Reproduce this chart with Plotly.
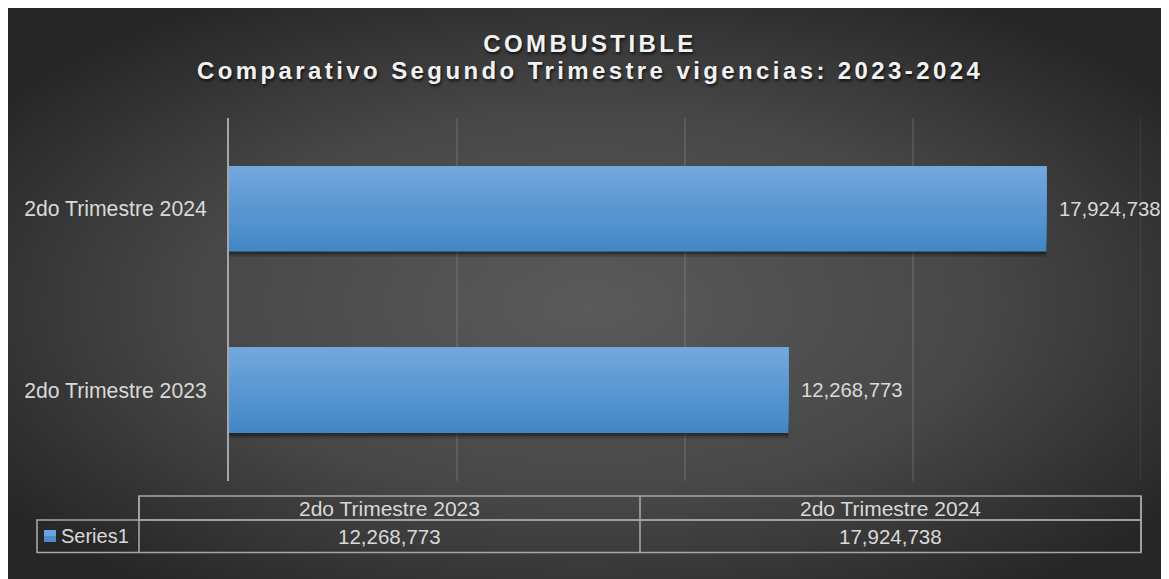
import base64
import plotly.graph_objects as go

# ---------------- data ----------------
categories = ["2do Trimestre 2023", "2do Trimestre 2024"]
values = [12268773, 17924738]
series_name = "Series1"
title_line1 = "COMBUSTIBLE"
title_line2 = "Comparativo Segundo Trimestre vigencias: 2023-2024"
x_max = 20000000
x_step = 5000000

# ---------------- layout constants ----------------
# positions below are in screen pixels; the page body has an 8px margin
OFF = 8
W, H = 1169 - OFF, 579 - OFF
PL, PR, PT, PB = 229, 1141, 118, 481          # plot area on screen
L, R, T, B = PL - OFF, W - (PR - OFF), PT - OFF, H - (PB - OFF)
PW = PR - PL
PH = PB - PT
FONT = "Liberation Sans, Arial, sans-serif"
TXT = "#d9d9d9"
GRIDC = "rgba(255,255,255,0.10)"
TABLE_LINE = "#a6a6a6"


def px(xs):
    return (xs - PL) / PW


def py(ys):
    return (PB - ys) / PH


def fmt(v):
    return f"{v:,}"


# background radial gradient as an svg image
svg = (
    '<svg xmlns="http://www.w3.org/2000/svg" width="1161" height="571" viewBox="0 0 1161 571">'
    '<defs><radialGradient id="g" cx="50%" cy="52%" r="62%" fx="50%" fy="52%">'
    '<stop offset="0%" stop-color="#5a5a5a"/>'
    '<stop offset="55%" stop-color="#474747"/>'
    '<stop offset="100%" stop-color="#262626"/>'
    '</radialGradient></defs>'
    '<rect width="1161" height="571" fill="url(#g)"/></svg>'
)
bg_uri = "data:image/svg+xml;base64," + base64.b64encode(svg.encode()).decode()

fig = go.Figure()

bar_w = 0.47
# soft shadow
fig.add_trace(go.Bar(
    x=values, y=categories, orientation="h",
    width=bar_w, offset=-bar_w / 2 - 0.030,
    marker=dict(color="rgba(0,0,0,0.18)", line=dict(width=0)),
    hoverinfo="skip", showlegend=False,
))
fig.add_trace(go.Bar(
    x=values, y=categories, orientation="h",
    width=bar_w, offset=-bar_w / 2 - 0.016,
    marker=dict(color="rgba(0,0,0,0.30)", line=dict(width=0)),
    hoverinfo="skip", showlegend=False,
))

# gradient bands
top_c = (0x72, 0xa7, 0xdd)
bot_c = (0x43, 0x87, 0xc7)
N = 12
for k in range(N):
    f = (N - k) / N
    t = k / (N - 1)
    c = tuple(round(bot_c[i] + (top_c[i] - bot_c[i]) * t) for i in range(3))
    fig.add_trace(go.Bar(
        x=values, y=categories, orientation="h",
        width=bar_w * f, offset=bar_w / 2 - bar_w * f,
        marker=dict(color="rgb(%d,%d,%d)" % c, line=dict(width=0)),
        name=series_name, showlegend=False,
        hovertemplate="%{y}: %{x:,}<extra></extra>",
    ))

annotations = []
# data labels
for cat, v in zip(categories, values):
    annotations.append(dict(
        x=v, y=cat, xref="x", yref="y", text=fmt(v), showarrow=False,
        xanchor="left", xshift=11, font=dict(size=20.3, color=TXT, family=FONT),
    ))

# title
title_font = dict(size=24, color="#f2f2f2", family=FONT, weight="bold",
                  shadow="1px 2px 3px rgba(0,0,0,0.75)")
annotations.append(dict(x=px(590), y=py(43), xref="paper", yref="paper",
                        text=title_line1, showarrow=False, xanchor="center",
                        yanchor="middle", font=title_font))
annotations.append(dict(x=px(590), y=py(71), xref="paper", yref="paper",
                        text=title_line2, showarrow=False, xanchor="center",
                        yanchor="middle", font=title_font))

shapes = []
# gridline at the end of the value axis (plotly skips it at the range edge)
shapes.append(dict(type="line", xref="x", yref="paper", x0=x_max, x1=x_max, y0=0, y1=1,
                   line=dict(color=GRIDC, width=1.5), layer="below"))

# data table
tbl_left, col_left, tbl_right = 37, 139, 1141
y_top, y_mid, y_bot = 496, 520, 552.5
ncol = len(categories)
col_w = (tbl_right - col_left) / ncol
line = dict(color=TABLE_LINE, width=1.6)
shapes.append(dict(type="rect", xref="paper", yref="paper", x0=px(col_left), x1=px(tbl_right),
                   y0=py(y_top), y1=py(y_mid), line=line))
shapes.append(dict(type="rect", xref="paper", yref="paper", x0=px(tbl_left), x1=px(tbl_right),
                   y0=py(y_mid), y1=py(y_bot), line=line))
for i in range(ncol + 1):
    xx = col_left + i * col_w
    shapes.append(dict(type="line", xref="paper", yref="paper", x0=px(xx), x1=px(xx),
                       y0=py(y_top), y1=py(y_bot), line=line))
for i, (cat, v) in enumerate(zip(categories, values)):
    cx = col_left + (i + 0.5) * col_w
    annotations.append(dict(x=px(cx), y=py((y_top + y_mid) / 2), xref="paper", yref="paper",
                            text=cat, showarrow=False, xanchor="center", yanchor="middle",
                            font=dict(size=21, color=TXT, family=FONT)))
    annotations.append(dict(x=px(cx), y=py((y_mid + y_bot) / 2), xref="paper", yref="paper",
                            text=fmt(v), showarrow=False, xanchor="center", yanchor="middle",
                            font=dict(size=20.5, color=TXT, family=FONT)))
# legend key (two-tone to hint the gradient)
shapes.append(dict(type="rect", xref="paper", yref="paper", x0=px(44), x1=px(56),
                   y0=py(530), y1=py(542), line=dict(width=0), fillcolor="#4a8dcc"))
shapes.append(dict(type="rect", xref="paper", yref="paper", x0=px(44), x1=px(56),
                   y0=py(530), y1=py(536), line=dict(width=0), fillcolor="#69a2dc"))
annotations.append(dict(x=px(59), y=py((y_mid + y_bot) / 2), xref="paper", yref="paper",
                        text=series_name, showarrow=False, xanchor="left", yanchor="middle",
                        font=dict(size=20, color=TXT, family=FONT)))

fig.update_layout(
    width=W, height=H,
    margin=dict(l=L, r=R, t=T, b=B, pad=0),
    paper_bgcolor="#2a2a2a",
    plot_bgcolor="rgba(0,0,0,0)",
    barmode="overlay",
    showlegend=False,
    font=dict(family=FONT, color=TXT),
    annotations=annotations,
    shapes=shapes,
    images=[dict(source=bg_uri, xref="paper", yref="paper",
                 x=px(OFF), y=py(OFF), sizex=W / PW, sizey=H / PH,
                 xanchor="left", yanchor="top", sizing="stretch", layer="below")],
    xaxis=dict(range=[0, x_max], dtick=x_step, tick0=0, showticklabels=False,
               showgrid=True, gridcolor=GRIDC, gridwidth=1.5, zeroline=False,
               showline=False, fixedrange=True),
    yaxis=dict(showgrid=False, zeroline=False, showline=True, linecolor="#a6a6a6",
               linewidth=2, ticks="", ticklabelstandoff=16,
               tickfont=dict(size=21.2, color=TXT, family=FONT), fixedrange=True),
)

post = """
var gd = document.getElementById('{plot_id}');
function ls(){
  gd.querySelectorAll('text.annotation-text').forEach(function(t){
    var s = t.textContent;
    if (s.indexOf('COMBUSTIBLE') >= 0 || s.indexOf('Comparativo') >= 0) {
      t.style.letterSpacing = '3.4px';
    }
  });
}
ls();
if (gd.on) { gd.on('plotly_afterplot', ls); }
"""

fig.write_html("out.html", post_script=post, config={"displayModeBar": False})
